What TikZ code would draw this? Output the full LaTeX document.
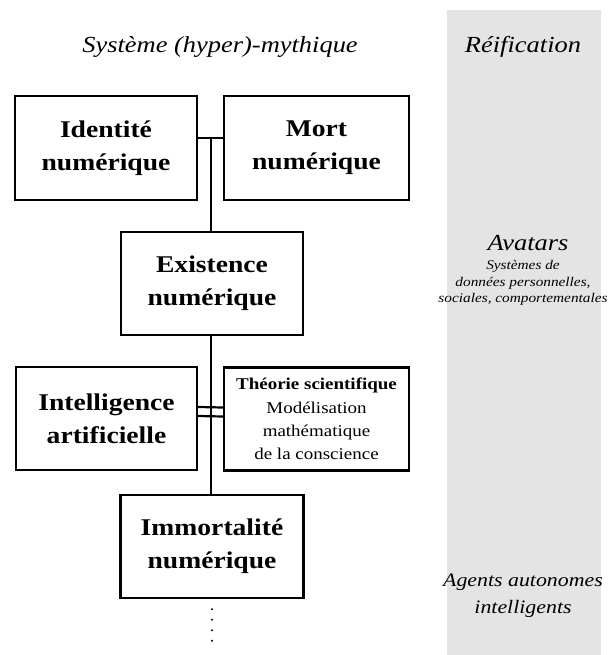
\documentclass[tikz,border=0pt]{standalone}
\usepackage{fontspec}
\setmainfont[FakeStretch=1.15]{Liberation Serif}
\definecolor{bandgray}{RGB}{228,228,228}
\begin{document}
\begin{tikzpicture}[x=1pt,y=-1pt,
  box/.style={draw=black, line width=2.3pt, inner sep=0pt, align=center,
    font=\fontsize{24}{33}\selectfont\bfseries},
  link/.style={draw=black, line width=2.2pt},
  title/.style={font=\fontsize{23}{28}\selectfont\itshape, align=center},
  dotmark/.style={fill=black, circle, inner sep=0pt, minimum size=2.2pt}]
\useasboundingbox (0,0) rectangle (609,655);
\fill[bandgray] (447,10) rectangle (601,655);
\node[title] (t1) at (220,47) {Système (hyper)-mythique};
\node[title] (t2) at (523,47) {Réification};
\node[title] (t3) at (528,243) {Avatars};
\node[align=center, font=\fontsize{13.3}{16.5}\selectfont\itshape] (t4) at (523,283)
  {Systèmes de\\données personnelles,\\sociales, comportementales};
\node[align=center, font=\fontsize{19}{27}\selectfont\itshape] (t5) at (523,596)
  {Agents autonomes\\intelligents};

\node[box, minimum width=182pt, minimum height=104pt] (id) at (106,148) {Identité\\numérique};
\node[box, minimum width=185pt, minimum height=104pt] (mort) at (316.5,148) {Mort\\numérique};
\node[box, minimum width=182pt, minimum height=103pt] (ex) at (212,283.5) {Existence\\numérique};
\node[box, minimum width=181pt, minimum height=103pt] (ia) at (106.5,418.5) {Intelligence\\artificielle};
\node[box, minimum width=185pt, minimum height=103pt, font=\fontsize{16.5}{23.3}\selectfont] (th) at (316.5,419)
  {\textbf{Théorie scientifique}\\Modélisation\\mathématique\\de la conscience};
\node[box, minimum width=183pt, minimum height=103pt] (im) at (212,546.5) {Immortalité\\numérique};

\draw[link] ([yshift=10pt]id.east) -- ([yshift=10pt]mort.west);
\coordinate (j1) at (211,138);
\draw[link] (j1) -- (j1 |- ex.north);
\draw[link] ([xshift=-1pt]ex.south) -- ([xshift=-1pt]im.north);
\draw[link] ([yshift=11.5pt]ia.east) -- ([yshift=11.5pt]th.west);
\draw[link] ([yshift=2.5pt]ia.east) -- ([yshift=2.5pt]th.west);

\node[dotmark] (d1) at ([yshift=-10pt]im.south) {};
\node[dotmark] (d2) at ([yshift=-20.5pt]im.south) {};
\node[dotmark] (d3) at ([yshift=-31pt]im.south) {};
\node[dotmark] (d4) at ([yshift=-41.5pt]im.south) {};
\end{tikzpicture}
\end{document}
